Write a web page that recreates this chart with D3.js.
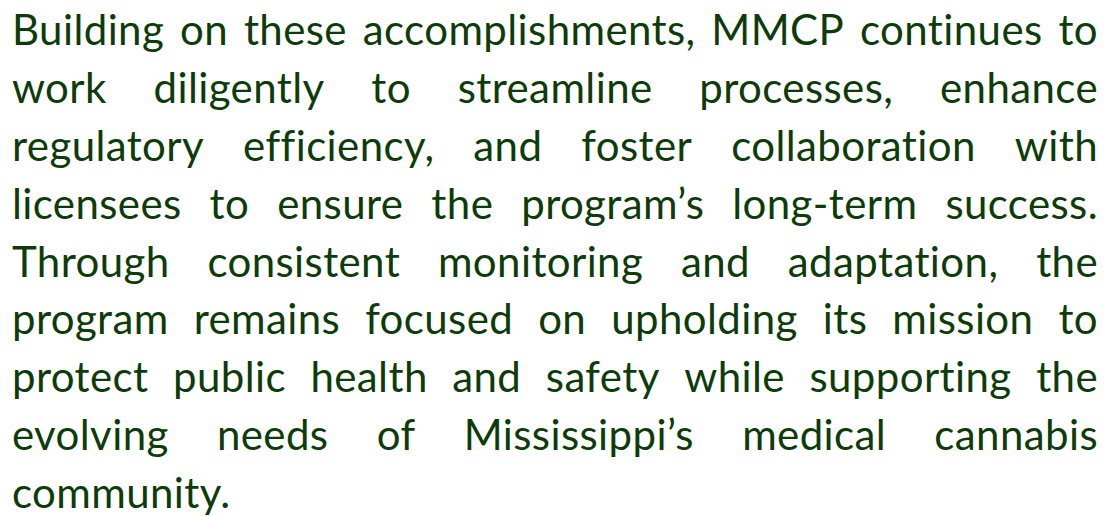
<!DOCTYPE html>
<html>
<head>
<meta charset="utf-8">
<script src="https://cdn.jsdelivr.net/npm/d3@7"></script>
<style>
  body { margin: 0; background: #ffffff; }
</style>
</head>
<body>
<div class="para"></div>
<script>
// Define SVG dimensions.
var w = 1107,
    h = 516;

var left = 12,
    right = 1098;

// Paragraph lines, as broken in the original.
var lines = [
  "Building on these accomplishments, MMCP continues to",
  "work diligently to streamline processes, enhance",
  "regulatory efficiency, and foster collaboration with",
  "licensees to ensure the program\u2019s long-term success.",
  "Through consistent monitoring and adaptation, the",
  "program remains focused on upholding its mission to",
  "protect public health and safety while supporting the",
  "evolving needs of Mississippi\u2019s medical cannabis",
  "community."
];

var textColor = "#0e3b0a";

var svg = d3.select(".para").append("svg")
  .attr("width", w)
  .attr("height", h);

// Baseline of each line.
var yScale = d3.scalePoint()
  .domain(d3.range(lines.length))
  .range([45, 508]);

lines.forEach(function(line, i) {
  var words = line.split(" ");
  var g = svg.append("g")
    .attr("transform", "translate(0," + yScale(i) + ")");

  var t = g.selectAll("text")
    .data(words)
    .enter()
    .append("text")
    .style("font-family", "Lato, 'Noto Sans', sans-serif")
    .style("font-weight", "400")
    .style("font-size", "42px")
    .style("letter-spacing", "0.4px")
    .style("fill", textColor)
    .text(function(d) { return d; });

  var widths = [];
  t.each(function() { widths.push(this.getComputedTextLength()); });
  var total = d3.sum(widths);

  // Justify every line but the last.
  var gap = (i < lines.length - 1 && words.length > 1)
    ? (right - left - total) / (words.length - 1)
    : 11;

  var x = left;
  t.attr("x", function(d, j) {
    var pos = x;
    x += widths[j] + gap;
    return pos;
  });
});
</script>
</body>
</html>
